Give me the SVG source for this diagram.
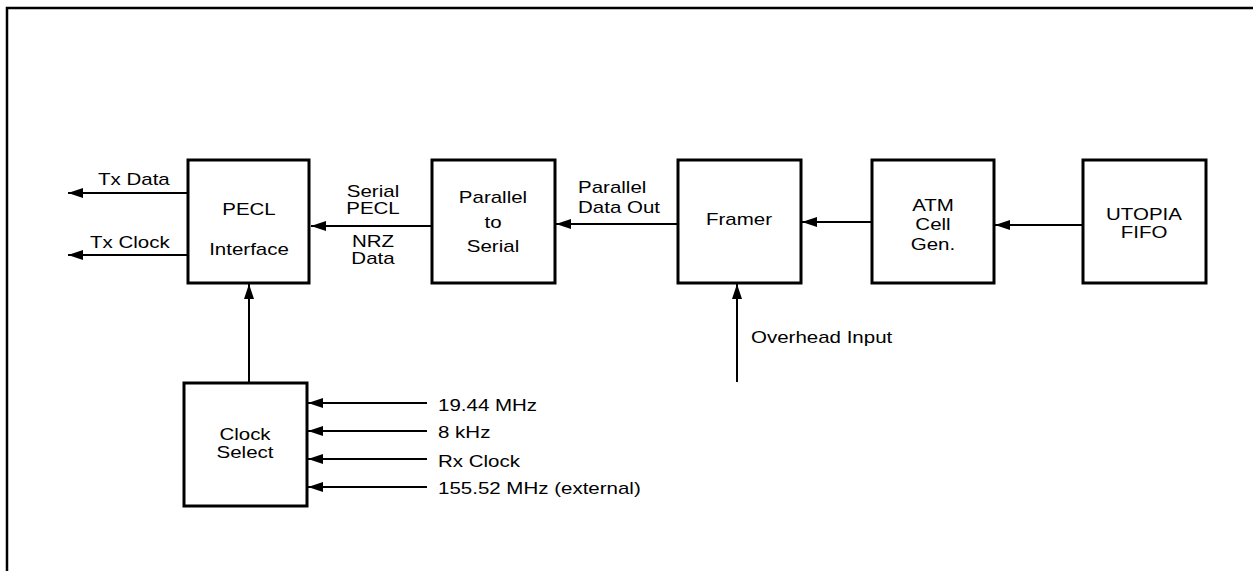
<svg xmlns="http://www.w3.org/2000/svg" width="1253" height="571" viewBox="0 0 1253 571">
<style>
.box{fill:#fff;stroke:#000;stroke-width:3}
.ln{fill:none;stroke:#000;stroke-width:2}
text{font-family:"Liberation Sans",Arial,sans-serif;font-size:20.5px;fill:#000}
.c{text-anchor:middle}
</style>
<defs>
<marker id="ah" markerUnits="userSpaceOnUse" markerWidth="16" markerHeight="10" refX="15" refY="5" orient="auto">
<path d="M0,0 L15,5 L0,10 Z" fill="#000"/>
</marker>
</defs>
<rect width="1253" height="571" fill="#fff"/>
<path d="M7,571 L7,8 L1253,8" fill="none" stroke="#000" stroke-width="2.5"/>
<g id="connectors">
<line class="ln" x1="188" y1="193" x2="68" y2="193" marker-end="url(#ah)"/>
<line class="ln" x1="188" y1="255" x2="68" y2="255" marker-end="url(#ah)"/>
<line class="ln" x1="432" y1="226" x2="311" y2="226" marker-end="url(#ah)"/>
<line class="ln" x1="678" y1="224" x2="556" y2="224" marker-end="url(#ah)"/>
<line class="ln" x1="872" y1="222" x2="802" y2="222" marker-end="url(#ah)"/>
<line class="ln" x1="1083" y1="225" x2="995" y2="225" marker-end="url(#ah)"/>
<line class="ln" x1="249" y1="383" x2="249" y2="284" marker-end="url(#ah)"/>
<line class="ln" x1="737" y1="382" x2="737" y2="284" marker-end="url(#ah)"/>
<line class="ln" x1="427" y1="403" x2="308" y2="403" marker-end="url(#ah)"/>
<line class="ln" x1="427" y1="431" x2="308" y2="431" marker-end="url(#ah)"/>
<line class="ln" x1="427" y1="459" x2="308" y2="459" marker-end="url(#ah)"/>
<line class="ln" x1="427" y1="487" x2="308" y2="487" marker-end="url(#ah)"/>
<text transform="translate(98,185) scale(1,0.84)">Tx Data</text>
<text transform="translate(90,248) scale(1,0.84)">Tx Clock</text>
<text class="c" transform="translate(373,197) scale(1,0.84)">Serial</text>
<text class="c" transform="translate(373,214) scale(1,0.84)">PECL</text>
<text class="c" transform="translate(373,247) scale(1,0.84)">NRZ</text>
<text class="c" transform="translate(373,264) scale(1,0.84)">Data</text>
<text transform="translate(578,193) scale(1,0.84)">Parallel</text>
<text transform="translate(578,213) scale(1,0.84)">Data Out</text>
<text transform="translate(751,343) scale(1,0.84)">Overhead Input</text>
<text transform="translate(438,411) scale(1,0.84)">19.44 MHz</text>
<text transform="translate(438,438) scale(1,0.84)">8 kHz</text>
<text transform="translate(438,467) scale(1,0.84)">Rx Clock</text>
<text transform="translate(438,494) scale(1,0.84)">155.52 MHz (external)</text>
</g>
<g id="pecl">
<rect class="box" x="188" y="160" width="121" height="123"/>
<text class="c" transform="translate(249,215) scale(1,0.84)">PECL</text>
<text class="c" transform="translate(249,255) scale(1,0.84)">Interface</text>
</g>
<g id="p2s">
<rect class="box" x="432" y="160" width="123" height="123"/>
<text class="c" transform="translate(493,203) scale(1,0.84)">Parallel</text>
<text class="c" transform="translate(493,228) scale(1,0.84)">to</text>
<text class="c" transform="translate(493,252) scale(1,0.84)">Serial</text>
</g>
<g id="framer">
<rect class="box" x="678" y="160" width="123" height="123"/>
<text class="c" transform="translate(739,225) scale(1,0.84)">Framer</text>
</g>
<g id="atm">
<rect class="box" x="872" y="160" width="122" height="123"/>
<text class="c" transform="translate(933,211) scale(1,0.84)">ATM</text>
<text class="c" transform="translate(933,230) scale(1,0.84)">Cell</text>
<text class="c" transform="translate(933,250) scale(1,0.84)">Gen.</text>
</g>
<g id="utopia">
<rect class="box" x="1083" y="160" width="123" height="123"/>
<text class="c" transform="translate(1144,220) scale(1,0.84)">UTOPIA</text>
<text class="c" transform="translate(1144,238) scale(1,0.84)">FIFO</text>
</g>
<g id="clocksel">
<rect class="box" x="184" y="383" width="123" height="123"/>
<text class="c" transform="translate(245,440) scale(1,0.84)">Clock</text>
<text class="c" transform="translate(245,458) scale(1,0.84)">Select</text>
</g>
</svg>
